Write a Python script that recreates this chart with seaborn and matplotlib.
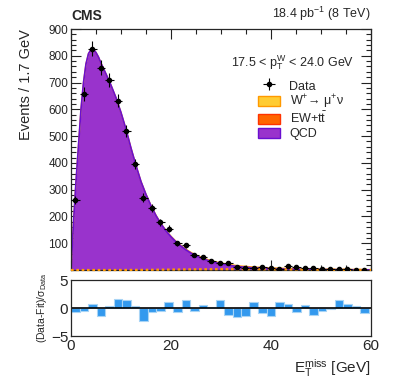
import numpy as np
import matplotlib
matplotlib.use("Agg")
import matplotlib.pyplot as plt
import seaborn as sns
from matplotlib.patches import Patch, Rectangle
from matplotlib.legend_handler import HandlerPatch

sns.set_theme(style="ticks")
plt.rcParams['font.family'] = ['Liberation Sans', 'DejaVu Sans']
plt.rcParams['mathtext.fontset'] = 'custom'
plt.rcParams['mathtext.rm'] = 'Liberation Sans'
plt.rcParams['mathtext.it'] = 'Liberation Sans'
plt.rcParams['mathtext.bf'] = 'Liberation Sans:bold'
plt.rcParams['mathtext.default'] = 'regular'

# histogram binning: 1.7 GeV bins
bin_width = 1.7
n_bins = 35

# data counts per bin
data_counts = [262, 657, 827, 755, 710, 632, 519, 396, 270, 230, 178, 154, 99, 93, 56,
               48, 34, 26, 26, 10, 7, 6, 13, 8, 5, 14, 12, 8, 9, 4, 4, 3, 5, 1, 1]

# pull per bin (Data-Fit)/sigma
pulls = [-0.8, -0.6, 0.65, -1.4, 0.35, 1.55, 1.5, 0.3, -2.3, -0.7, -0.5, 1.1, -0.7, 1.35,
         -0.55, 0.45, 0.1, 1.5, -1.3, -1.6, -1.4, 1.1, -0.9, -1.5, 1.1, 0.8, -0.8, 0.5,
         -1.3, -0.5, -0.2, 1.35, 0.65, 0.3, -0.9]

# fitted shapes
curve_x = [0, 0.25, 0.5, 0.75, 1.0, 1.5, 2.0, 2.5, 3.0, 3.5, 4.0, 4.5, 5.0, 5.5, 6.0, 6.5,
           7.0, 8.0, 9.0, 10.0, 11.0, 12.0, 13.0, 14.0, 15.0, 16.0, 17.0, 18.0, 19.0, 20.0,
           21.0, 22.0, 23.0, 24.0, 25.0, 26.0, 27.0, 28.0, 29.0, 30.0, 32.0, 34.0, 36.0,
           38.0, 40.0, 44.0, 48.0, 52.0, 56.0, 60.0]
qcd_curve = [0, 90, 175, 255, 330, 465, 600, 700, 770, 808, 823, 824, 812, 795, 772, 752,
             732, 690, 643, 588, 525, 455, 390, 330, 282, 240, 203, 172, 146, 124,
             105, 89, 75, 63, 53, 45, 38, 32, 27, 23, 16, 11.5, 8.5,
             6.5, 5, 3, 2, 1.3, 0.9, 0.6]
ew_curve = [0, 0, 0, 0, 0, 0, 0, 0, 0, 0, 0, 0, 0, 0, 0, 0,
            0, 0, 0, 0, 0.1, 0.1, 0.1, 0.1, 0.2, 0.2, 0.2, 0.2, 0.3, 0.3,
            0.3, 0.3, 0.3, 0.3, 0.3, 0.3, 0.3, 0.3, 0.3, 0.3, 0.3, 0.3, 0.3,
            0.3, 0.3, 0.2, 0.2, 0.2, 0.1, 0.1]
w_curve = [0, 0, 0, 0, 0, 0, 0, 0, 0, 0, 0, 0, 0, 0, 0, 0,
           0, 0, 0, 0.1, 0.2, 0.3, 0.4, 0.5, 0.6, 0.8, 1.0, 1.2, 1.4, 1.6,
           1.8, 2.0, 2.2, 2.4, 2.5, 2.6, 2.7, 2.8, 2.9, 3.0, 3.0, 3.0, 3.0,
           2.8, 2.5, 2.0, 1.5, 1.1, 0.8, 0.5]

qcd_col, qcd_edge = '#9933cc', '#6a0fd0'
ew_col, ew_edge = '#ff6600', '#ff3300'
w_col, w_edge = '#ffcc33', '#ff9900'
pull_col = '#3399ee'

cx = np.array(curve_x)
qcd = np.array(qcd_curve)
ew = np.array(ew_curve)
w = np.array(w_curve)

fig = plt.figure(figsize=(3.99, 3.88), dpi=100)
ax = fig.add_axes([71/399, 1-270/388, 300/399, 241/388])
rax = fig.add_axes([71/399, 1-336/388, 300/399, 56/388])

# stacked fit components
ax.fill_between(cx, 0, qcd, color=qcd_col, lw=0)
ax.fill_between(cx, qcd, qcd + ew, color=ew_col, lw=0)
ax.fill_between(cx, qcd + ew, qcd + ew + w, color=w_col, lw=0)
sns.lineplot(x=cx, y=qcd + ew + w, ax=ax, color=w_edge, lw=1.0)
sns.lineplot(x=cx, y=qcd, ax=ax, color=qcd_edge, lw=1.2)
ax.plot(cx, w, color=w_edge, lw=1.6, ls=(0, (1.2, 1.2)), clip_on=False, zorder=4)

# data points
edges = np.arange(n_bins + 1) * bin_width
centers = 0.5 * (edges[1:] + edges[:-1])
counts = np.array(data_counts, dtype=float)
eb = ax.errorbar(centers, counts, yerr=np.sqrt(counts), xerr=bin_width / 2, fmt='o',
                 color='black', ms=3.0, lw=0.8, capsize=0, zorder=5)

ax.set_xlim(0, 60)
ax.set_ylim(0, 900)
ax.set_yticks(np.arange(100, 901, 100))
ax.set_yticks(np.arange(0, 901, 20), minor=True)
ax.set_xticks([0, 20, 40, 60])
ax.set_xticks(np.arange(0, 61, 5), minor=True)
ax.tick_params(which='both', direction='in', top=True, right=True, labelbottom=False,
               labelsize=8.5, pad=2, color='#222222')
ax.tick_params(which='major', length=7, width=0.8)
ax.tick_params(which='minor', length=3.5, width=0.8)
ax.set_ylabel('Events / 1.7 GeV', fontsize=10.5, loc='top', labelpad=11)
for s in ax.spines.values():
    s.set_linewidth(0.9)

ax.text(0.0, 1.025, 'CMS', transform=ax.transAxes, fontsize=10, fontweight='bold',
        ha='left', va='bottom')
ax.text(1.0, 1.025, '18.4 pb$^{-1}$ (8 TeV)', transform=ax.transAxes, fontsize=9,
        ha='right', va='bottom')
ax.text(0.945, 0.86, '17.5 < p$_T^W$ < 24.0 GeV', transform=ax.transAxes, fontsize=9,
        ha='right', va='center')


def small_box(legend, orig_handle, xdescent, ydescent, width, height, fontsize):
    h = 0.72 * height
    return Rectangle((-xdescent, -ydescent + (height - h) / 2), width, h)


handles = [eb,
           Patch(facecolor=w_col, edgecolor=w_edge),
           Patch(facecolor=ew_col, edgecolor=ew_edge),
           Patch(facecolor=qcd_col, edgecolor=qcd_edge)]
labels = ['Data', 'W$^{+}$→ μ$^{+}$ν', 'EW+t$\\bar{t}$', 'QCD']
ax.legend(handles, labels, loc='upper left', bbox_to_anchor=(0.595, 0.83), frameon=False,
          fontsize=9, handlelength=1.75, handleheight=1.3, labelspacing=0.0,
          handletextpad=0.75, borderpad=0.2,
          handler_map={Patch: HandlerPatch(patch_func=small_box)})

# pull panel
rax.bar(centers, pulls, width=bin_width, color=pull_col, edgecolor='#a8d4f5', lw=0.8)
rax.axhline(0, color='black', lw=1.2)
rax.set_xlim(0, 60)
rax.set_ylim(-5, 5)
rax.set_yticks([-5, 0, 5])
rax.set_xticks([0, 20, 40, 60])
rax.tick_params(which='both', direction='in', length=0, labelsize=11, pad=2)
rax.set_ylabel('(Data-Fit)/σ$_{Data}$', fontsize=7.5, labelpad=1)
rax.set_xlabel('E$_T^{miss}$ [GeV]', fontsize=11, loc='right', labelpad=3)
for s in rax.spines.values():
    s.set_linewidth(0.9)

fig.savefig('out.png', dpi=100)
